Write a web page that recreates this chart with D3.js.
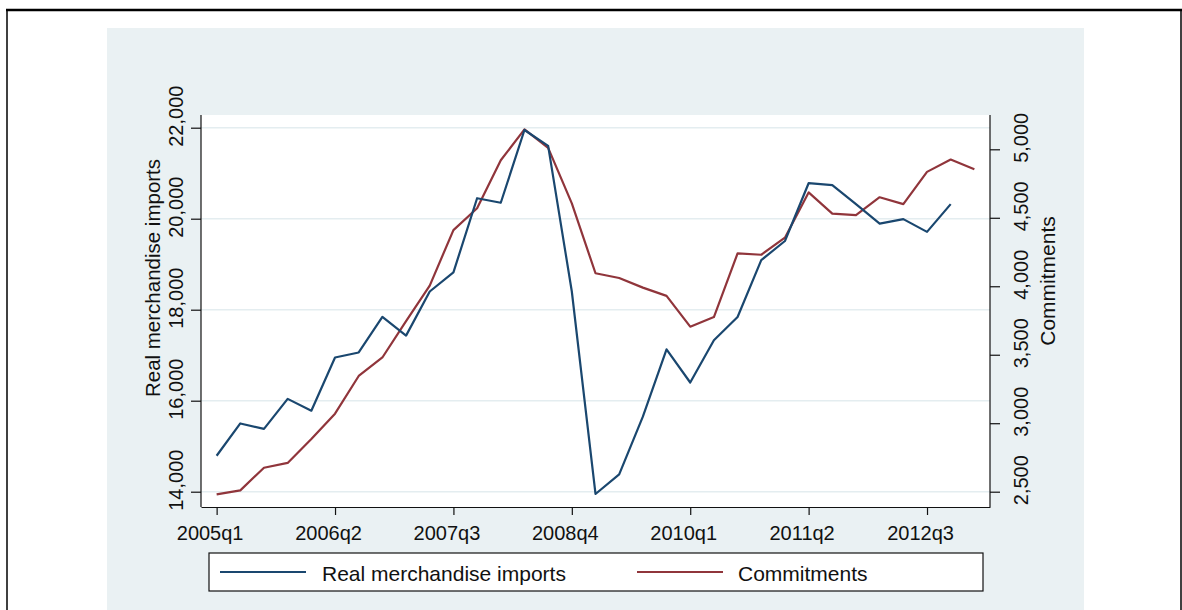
<!DOCTYPE html>
<html>
<head>
<meta charset="utf-8">
<script src="https://cdn.jsdelivr.net/npm/d3@7"></script>
<style>
  body { margin: 0; background: #fff; }
  text { font-family: "Liberation Sans", Arial, sans-serif; fill: #111; }
</style>
</head>
<body>
<script>
// quarters shown on the x axis (2005q1 .. 2013q1)
var quarters = ["2005q1","2005q2","2005q3","2005q4","2006q1","2006q2","2006q3","2006q4",
    "2007q1","2007q2","2007q3","2007q4","2008q1","2008q2","2008q3","2008q4",
    "2009q1","2009q2","2009q3","2009q4","2010q1","2010q2","2010q3","2010q4",
    "2011q1","2011q2","2011q3","2011q4","2012q1","2012q2","2012q3","2012q4","2013q1"];

// Real merchandise imports (left axis)
var imports = [14790, 15500, 15380, 16040, 15780, 16950, 17060, 17840,
    17430, 18400, 18820, 20450, 20350, 21950, 21600, 18400,
    13950, 14380, 15650, 17130, 16400, 17330, 17840, 19090,
    19510, 20780, 20740, 20320, 19890, 19990, 19710, 20320, null];

// Commitments (right axis)
var commitments = [2480, 2510, 2675, 2710, 2885, 3070, 3345, 3480,
    3745, 4005, 4410, 4570, 4920, 5145, 5010, 4605,
    4095, 4060, 3990, 3930, 3705, 3775, 4240, 4230,
    4355, 4685, 4530, 4520, 4650, 4600, 4835, 4925, 4855];

var xTickLabels = ["2005q1", "2006q2", "2007q3", "2008q4", "2010q1", "2011q2", "2012q3"];
var leftTicks = [14000, 16000, 18000, 20000, 22000];
var rightTicks = [2500, 3000, 3500, 4000, 4500, 5000];
var seriesNames = ["Real merchandise imports", "Commitments"];
var colors = ["#1a476f", "#90353b"];

var width = 1182, height = 610;
var plot = { left: 201, right: 990, top: 115, bottom: 507 };

var svg = d3.select("body").append("svg")
    .attr("width", width)
    .attr("height", height);

// outer frame (cut from a larger page)
svg.append("line").attr("x1", 6).attr("x2", width).attr("y1", 10).attr("y2", 10)
    .attr("stroke", "#000").attr("stroke-width", 2.5);
svg.append("line").attr("x1", 7).attr("x2", 7).attr("y1", 10).attr("y2", height)
    .attr("stroke", "#000").attr("stroke-width", 1.5);
svg.append("line").attr("x1", 1181).attr("x2", 1181).attr("y1", 10).attr("y2", height)
    .attr("stroke", "#000").attr("stroke-width", 1.5);

// graph region
svg.append("rect")
    .attr("x", 107).attr("y", 28)
    .attr("width", 1084 - 107).attr("height", height - 28)
    .attr("fill", "#eaf1f3");

// plot region
svg.append("rect")
    .attr("x", plot.left).attr("y", plot.top)
    .attr("width", plot.right - plot.left).attr("height", plot.bottom - plot.top)
    .attr("fill", "#fff");

// scales
var x = d3.scaleLinear()
    .domain([-0.66, quarters.length - 1 + 0.66])
    .range([plot.left, plot.right]);

var yL = d3.scaleLinear().domain([14000, 22000]).range([491.7, 127.7]);
var yR = d3.scaleLinear().domain([2500, 5000]).range([491.7, 149.3]);

// gridlines at left ticks
svg.append("g").selectAll("line")
    .data(leftTicks)
    .enter().append("line")
    .attr("x1", plot.left).attr("x2", plot.right)
    .attr("y1", function (d) { return yL(d); })
    .attr("y2", function (d) { return yL(d); })
    .attr("stroke", "#e4edf0")
    .attr("stroke-width", 1.6);

// series lines
var lineL = d3.line()
    .defined(function (d) { return d != null; })
    .x(function (d, i) { return x(i); })
    .y(function (d) { return yL(d); });

var lineR = d3.line()
    .defined(function (d) { return d != null; })
    .x(function (d, i) { return x(i); })
    .y(function (d) { return yR(d); });

svg.append("path").datum(commitments)
    .attr("d", lineR)
    .attr("fill", "none").attr("stroke", colors[1]).attr("stroke-width", 2.2)
    .attr("stroke-linejoin", "round");

svg.append("path").datum(imports)
    .attr("d", lineL)
    .attr("fill", "none").attr("stroke", colors[0]).attr("stroke-width", 2.2)
    .attr("stroke-linejoin", "round");

// axes
function styleAxis(g) {
    g.select(".domain").attr("stroke", "#111").attr("stroke-width", 1.2);
    g.selectAll(".tick line").attr("stroke", "#111").attr("stroke-width", 1.2);
    g.selectAll(".tick text").style("font-size", "20px").attr("fill", "#111");
}

var xAxis = d3.axisBottom(x)
    .tickValues(xTickLabels.map(function (q) { return quarters.indexOf(q); }))
    .tickFormat(function (i) { return quarters[i]; })
    .tickSize(8)
    .tickSizeOuter(0);

var gx = svg.append("g")
    .attr("transform", "translate(0," + plot.bottom + ")")
    .call(xAxis)
    .call(styleAxis);
gx.selectAll(".tick text")
    .attr("y", 33).attr("dy", 0).attr("x", -7);

var gyL = svg.append("g")
    .attr("transform", "translate(" + plot.left + ",0)")
    .call(d3.axisLeft(yL).tickValues(leftTicks).tickFormat(d3.format(",")).tickSize(10).tickSizeOuter(0))
    .call(styleAxis);
gyL.select(".domain").attr("d", "M0," + plot.top + "V" + plot.bottom);
gyL.selectAll(".tick text")
    .attr("transform", "rotate(-90)")
    .attr("text-anchor", "middle")
    .attr("x", 12).attr("y", -18).attr("dy", 0);

var gyR = svg.append("g")
    .attr("transform", "translate(" + plot.right + ",0)")
    .call(d3.axisRight(yR).tickValues(rightTicks).tickFormat(d3.format(",")).tickSize(10).tickSizeOuter(0))
    .call(styleAxis);
gyR.select(".domain").attr("d", "M0," + plot.top + "V" + plot.bottom);
gyR.selectAll(".tick text")
    .attr("transform", "rotate(-90)")
    .attr("text-anchor", "middle")
    .attr("x", 12).attr("y", 38).attr("dy", 0);

// axis titles
svg.append("text")
    .attr("transform", "translate(160,278) rotate(-90)")
    .attr("text-anchor", "middle")
    .style("font-size", "20.5px")
    .text(seriesNames[0]);

svg.append("text")
    .attr("transform", "translate(1055,281) rotate(-90)")
    .attr("text-anchor", "middle")
    .style("font-size", "21px")
    .text(seriesNames[1]);

// legend
var legend = svg.append("g");
legend.append("rect")
    .attr("x", 209).attr("y", 553)
    .attr("width", 983 - 209).attr("height", 38)
    .attr("fill", "#fff").attr("stroke", "#111").attr("stroke-width", 1.2);

var legendPos = [{ x0: 220, tx: 322 }, { x0: 637, tx: 738 }];
legend.selectAll("g.item")
    .data(seriesNames)
    .enter().append("g")
    .attr("class", "item")
    .each(function (d, i) {
        var g = d3.select(this);
        g.append("line")
            .attr("x1", legendPos[i].x0).attr("x2", legendPos[i].x0 + 86)
            .attr("y1", 572).attr("y2", 572)
            .attr("stroke", colors[i]).attr("stroke-width", 2.2);
        g.append("text")
            .attr("x", legendPos[i].tx).attr("y", 581)
            .style("font-size", "21px")
            .text(d);
    });
</script>
</body>
</html>
